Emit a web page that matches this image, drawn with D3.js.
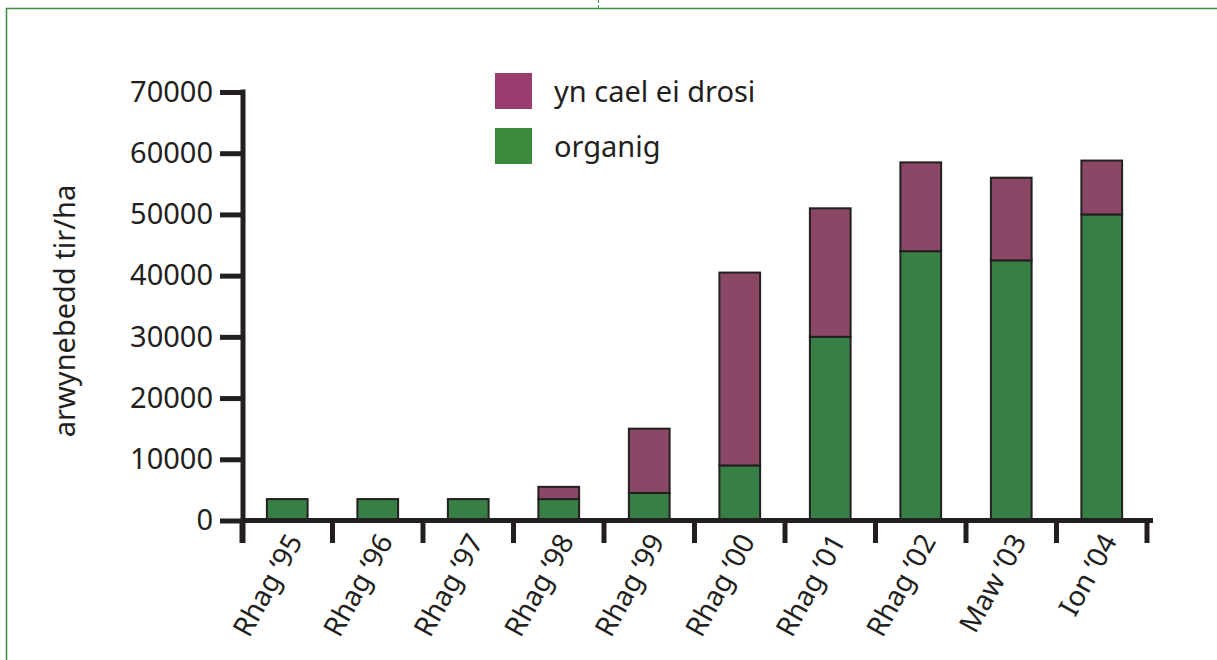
<!DOCTYPE html>
<html>
<head>
<meta charset="utf-8">
<script src="https://cdn.jsdelivr.net/npm/d3@7"></script>
<style>
  html, body { margin: 0; padding: 0; background: #fff; }
  svg { display: block; }
  svg text { font-family: "Noto Sans", "Open Sans", sans-serif; }
</style>
</head>
<body>
<svg id="chart" width="1217" height="660"></svg>
<script>
// chart data (hectares)
const categories = ["Rhag \u201895", "Rhag \u201896", "Rhag \u201897", "Rhag \u201898", "Rhag \u201899",
                    "Rhag \u201800", "Rhag \u201801", "Rhag \u201802", "Maw \u201803", "Ion \u201804"];
const organicValues = [3500, 3500, 3500, 3500, 4500, 9000, 30000, 44000, 42500, 50000];
const conversionValues = [0, 0, 0, 2000, 10500, 31500, 21000, 14500, 13500, 8800];
const yTicks = [0, 10000, 20000, 30000, 40000, 50000, 60000, 70000];
const seriesNames = ["organig", "yn cael ei drosi"];
const yTitle = "arwynebedd tir/ha";

const ink = "#231f20";
const barColors = { "organig": "#387f45", "yn cael ei drosi": "#8a4766" };
const legendColors = { "organig": "#3d8a3e", "yn cael ei drosi": "#9a3d6e" };

const svg = d3.select("#chart");

// green page frame
svg.append("path")
    .attr("d", "M6.5,660 V8.5 H1217")
    .attr("fill", "none")
    .attr("stroke", "#3f9142")
    .attr("stroke-width", 1.5);
svg.append("line")
    .attr("x1", 598.5).attr("x2", 598.5)
    .attr("y1", 0).attr("y2", 8)
    .attr("stroke", "#3f9142")
    .attr("stroke-dasharray", "3,2");

const x = d3.scaleBand()
    .domain(categories)
    .range([242, 1147])
    .paddingInner(0.55)
    .paddingOuter(0.275);

const y = d3.scaleLinear()
    .domain([0, 70000])
    .range([520.5, 92]);

const rows = categories.map((c, i) => ({
    cat: c,
    "organig": organicValues[i],
    "yn cael ei drosi": conversionValues[i]
}));

const layers = d3.stack().keys(seriesNames)(rows);

// bars
svg.append("g").selectAll("g")
    .data(layers)
    .join("g")
    .attr("fill", d => barColors[d.key])
    .selectAll("rect")
    .data(d => d.filter(s => s[1] > s[0]))
    .join("rect")
    .attr("x", d => x(d.data.cat))
    .attr("width", x.bandwidth())
    .attr("y", d => y(d[1]))
    .attr("height", d => y(d[0]) - y(d[1]))
    .attr("stroke", ink)
    .attr("stroke-width", 2);

// y axis
const yAxis = svg.append("g")
    .attr("transform", "translate(243,0)")
    .call(d3.axisLeft(y).tickValues(yTicks).tickFormat(d3.format("d"))
        .tickSize(23).tickPadding(7).tickSizeOuter(0));
yAxis.attr("font-family", null).attr("font-size", null);
yAxis.select(".domain").remove();
yAxis.selectAll(".tick line").attr("stroke", ink).attr("stroke-width", 5);
yAxis.selectAll(".tick text")
    .attr("fill", ink)
    .style("font-size", "29px");
yAxis.append("line")
    .attr("x1", 0).attr("x2", 0)
    .attr("y1", y(70000) - 2.5).attr("y2", 543)
    .attr("stroke", ink).attr("stroke-width", 5);

// x axis: ticks sit on band boundaries
const xAxisG = svg.append("g");
xAxisG.append("line")
    .attr("x1", 241).attr("x2", 1153)
    .attr("y1", y(0)).attr("y2", y(0))
    .attr("stroke", ink).attr("stroke-width", 5);
const tickPos = d3.range(categories.length + 1).map(i => x.range()[0] + i * x.step());
xAxisG.selectAll("line.tick")
    .data(tickPos)
    .join("line")
    .attr("class", "tick")
    .attr("x1", d => d).attr("x2", d => d)
    .attr("y1", y(0)).attr("y2", 543)
    .attr("stroke", ink).attr("stroke-width", 5);

xAxisG.selectAll("text")
    .data(categories)
    .join("text")
    .attr("transform", d => `translate(${x(d) + x.bandwidth() / 2 + 16},${541}) rotate(-61)`)
    .attr("text-anchor", "end")
    .attr("fill", ink)
    .style("font-size", "28px")
    .text(d => d);

// y axis title
svg.append("text")
    .attr("transform", "translate(75,311) rotate(-90)")
    .attr("text-anchor", "middle")
    .attr("fill", ink)
    .style("font-size", "29px")
    .text(yTitle);

// legend (conversion first, as in the original)
const legendItems = seriesNames.slice().reverse();
const legend = svg.append("g").attr("transform", "translate(495,73)");
legend.selectAll("rect")
    .data(legendItems)
    .join("rect")
    .attr("x", 0)
    .attr("y", (d, i) => i * 55)
    .attr("width", 37)
    .attr("height", 36)
    .attr("fill", d => legendColors[d]);
legend.selectAll("text")
    .data(legendItems)
    .join("text")
    .attr("x", 59)
    .attr("y", (d, i) => i * 55 + 29)
    .attr("fill", ink)
    .style("font-size", "29px")
    .text(d => d);
</script>
</body>
</html>
